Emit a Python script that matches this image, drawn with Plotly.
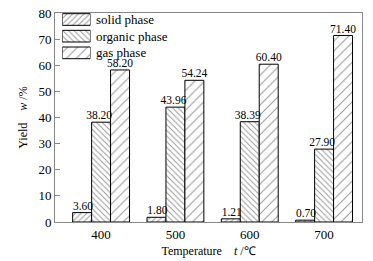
import plotly.graph_objects as go

temperatures = [400, 500, 600, 700]
solid_phase = [3.60, 1.80, 1.21, 0.70]
organic_phase = [38.20, 43.96, 38.39, 27.90]
gas_phase = [58.20, 54.24, 60.40, 71.40]
series_names = ["solid phase", "organic phase", "gas phase"]
y_ticks = [0, 10, 20, 30, 40, 50, 60, 70, 80]

FONT = "Liberation Serif"
BAR_W = 25.5  # bar width in x-axis units
patterns = [
    dict(shape="/", size=4, solidity=0.25),
    dict(shape="\\", size=4, solidity=0.25),
    dict(shape="/", size=7, solidity=0.15),
]
label_pos = ["top left", "top left", "top center"]

def marker_for(pat):
    return dict(color="white", line=dict(color="black", width=1),
                pattern=dict(fgcolor="#333333", bgcolor="white", fillmode="overlay", **pat))

fig = go.Figure()
series = [solid_phase, organic_phase, gas_phase]
for i, (name, vals, pat) in enumerate(zip(series_names, series, patterns)):
    off = -1.5 * BAR_W + i * BAR_W
    fig.add_trace(go.Bar(
        x=temperatures, y=vals, name=name,
        offset=off, width=BAR_W,
        showlegend=False, marker=marker_for(pat),
    ))

# value labels drawn on top of all bars
for i, (vals, pos) in enumerate(zip(series, label_pos)):
    off = -1.5 * BAR_W + i * BAR_W
    anchor = off + (BAR_W + 2 if pos == "top left" else BAR_W / 2)
    fig.add_trace(go.Scatter(
        x=[t + anchor for t in temperatures], y=vals,
        mode="text", text=[f"{v:.2f}" for v in vals], textposition=pos,
        textfont=dict(family=FONT, size=11.5, color="black"),
        cliponaxis=False, showlegend=False, hoverinfo="skip",
    ))

# legend drawn as swatches on a small overlay axis
legend_rows = [0, 1, 2]
for row, name, pat in zip(legend_rows, series_names, patterns):
    fig.add_trace(go.Bar(
        x=[1], y=[row], orientation="h", base=0, width=0.70,
        xaxis="x2", yaxis="y2", showlegend=False, hoverinfo="skip",
        marker=marker_for(pat),
    ))
    fig.add_annotation(x=0.128, xref="paper", xanchor="left",
                       y=row, yref="y2", yanchor="middle",
                       text=name, showarrow=False,
                       font=dict(family=FONT, size=13, color="black"))

# the page body adds an 8px offset at top-left; compensate in size and margins
fig.update_layout(
    width=365, height=253,
    margin=dict(l=47, r=11, t=5, b=39, autoexpand=False),
    paper_bgcolor="white", plot_bgcolor="white",
    barmode="overlay",
    font=dict(family=FONT, size=13, color="black"),
    showlegend=False,
    xaxis=dict(range=[338, 751], tickvals=temperatures,
               ticktext=[str(t) for t in temperatures],
               tickfont=dict(family=FONT, size=13), automargin=False,
               showline=True, linecolor="#888888", mirror=True, linewidth=1,
               ticks="", showgrid=False, zeroline=False,
               title=dict(text="Temperature    <i>t</i> /℃", font=dict(family=FONT, size=12), standoff=6)),
    yaxis=dict(range=[0, 80], tickvals=y_ticks,
               tickfont=dict(family=FONT, size=13), automargin=False,
               ticklabeloverflow="allow",
               showline=True, linecolor="#888888", mirror=True, linewidth=1,
               ticks="inside", ticklen=5, tickcolor="#888888",
               showgrid=False, zeroline=False,
               title=dict(text="Yield    <i>w</i> /%", font=dict(family=FONT, size=12), standoff=8)),
    xaxis2=dict(domain=[0.0235, 0.1156], range=[0, 1], anchor="y2",
                visible=False, fixedrange=True, automargin=False),
    yaxis2=dict(domain=[0.77, 1.0], range=[2.493, -0.39], anchor="x2",
                visible=False, fixedrange=True, automargin=False),
)

fig.write_html("out.html")
